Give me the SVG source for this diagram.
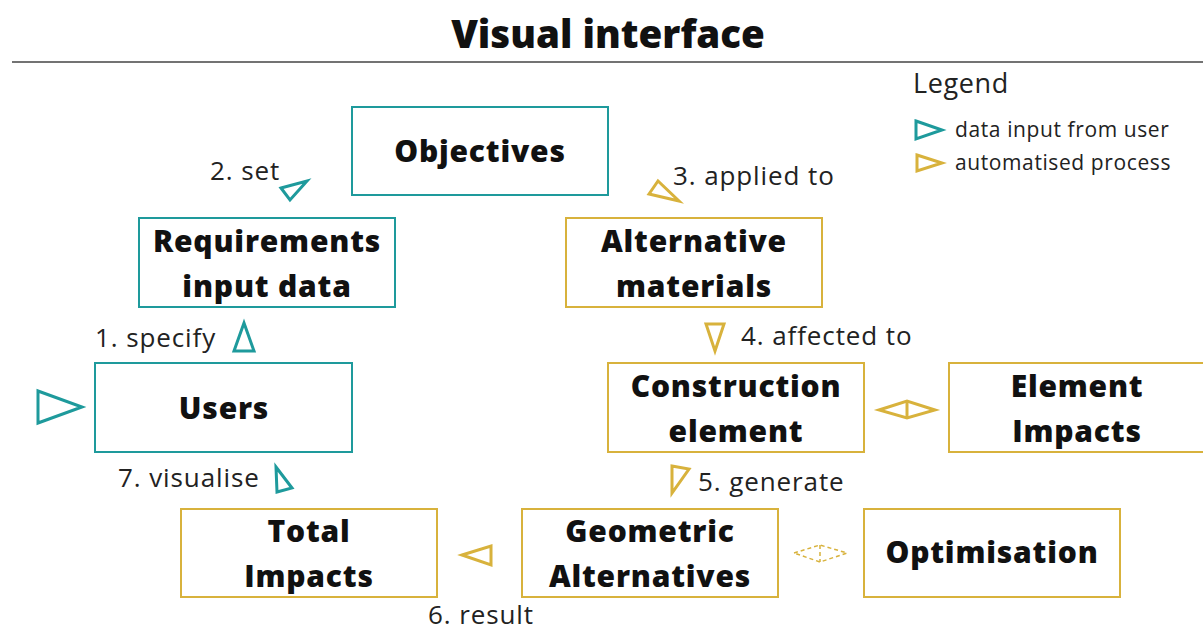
<svg xmlns="http://www.w3.org/2000/svg" width="1203" height="631" viewBox="0 0 1203 631">
<style>
.t{stroke:#1E9A9C;fill:none;stroke-width:2}
.g{stroke:#D8B23C;fill:none;stroke-width:2}
.at{stroke:#1E9A9C;fill:none;stroke-width:3;stroke-linejoin:miter}
.ag{stroke:#D8B23C;fill:none;stroke-width:3;stroke-linejoin:miter}
.ad{stroke:#D8B23C;fill:none;stroke-width:1.5;stroke-dasharray:4 3}
.n{font-family:"Open Sans","Liberation Sans",sans-serif;font-weight:800;font-size:30px;letter-spacing:0.8px;fill:#111;text-anchor:middle}
.l{font-family:"Open Sans","Liberation Sans",sans-serif;font-size:26px;letter-spacing:0.9px;fill:#222}
.lg{font-family:"Open Sans","Liberation Sans",sans-serif;font-size:21px;letter-spacing:0.6px;fill:#222}
</style>
<rect width="1203" height="631" fill="#fff"/>
<text x="608" y="48" font-family="Open Sans, Liberation Sans, sans-serif" font-weight="800" font-size="38.5" text-anchor="middle" fill="#111">Visual interface</text>
<line x1="12" y1="62" x2="1203" y2="62" stroke="#444" stroke-width="1.5"/>
<g id="legend">
<text x="913" y="93" font-family="Open Sans, Liberation Sans, sans-serif" font-size="27" letter-spacing="0.6" fill="#222">Legend</text>
<polygon class="at" points="916,121 942,130 916,139"/>
<text class="lg" x="955" y="137">data input from user</text>
<polygon class="ag" points="917,155 942,163 917,171"/>
<text class="lg" x="955" y="170">automatised process</text>
</g>
<g id="objectives"><rect class="t" x="352" y="107" width="256" height="88"/><text class="n" x="480" y="162">Objectives</text></g>
<g id="requirements"><rect class="t" x="139" y="218" width="256" height="89"/><text class="n" x="267" y="252">Requirements</text><text class="n" x="267" y="297">input data</text></g>
<g id="alternative-materials"><rect class="g" x="566" y="218" width="256" height="89"/><text class="n" x="694" y="252">Alternative</text><text class="n" x="694" y="297">materials</text></g>
<g id="users"><rect class="t" x="95" y="363" width="257" height="89"/><text class="n" x="224" y="419">Users</text></g>
<g id="construction-element"><rect class="g" x="608" y="363" width="256" height="89"/><text class="n" x="736" y="397">Construction</text><text class="n" x="736" y="442">element</text></g>
<g id="element-impacts"><rect class="g" x="949" y="363" width="256" height="89"/><text class="n" x="1077" y="397">Element</text><text class="n" x="1077" y="442">Impacts</text></g>
<g id="total-impacts"><rect class="g" x="181" y="509" width="256" height="88"/><text class="n" x="309" y="542">Total</text><text class="n" x="309" y="587">Impacts</text></g>
<g id="geometric-alternatives"><rect class="g" x="522" y="509" width="256" height="88"/><text class="n" x="650" y="542">Geometric</text><text class="n" x="650" y="587">Alternatives</text></g>
<g id="optimisation"><rect class="g" x="864" y="509" width="256" height="88"/><text class="n" x="992" y="563">Optimisation</text></g>
<g id="connectors">
<polygon class="at" points="38,391 82,407 38,423"/>
<polygon class="at" points="234,351 244,323 254,351"/>
<text class="l" x="95" y="347">1. specify</text>
<polygon class="at" points="281,188 307,181 290,200"/>
<text class="l" x="210" y="180">2. set</text>
<polygon class="ag" points="649,194 658,181 679,201"/>
<text class="l" x="673" y="185">3. applied to</text>
<polygon class="ag" points="706,324 724,324 715,351"/>
<text class="l" x="741" y="345">4. affected to</text>
<polygon class="ag" points="879,410 907,401 935,410 907,418"/>
<line class="ag" x1="907" y1="401" x2="907" y2="418"/>
<polygon class="ag" points="672,466 689,469 672,493"/>
<text class="l" x="698" y="491">5. generate</text>
<polygon class="ag" points="462,555 491,546 491,565"/>
<text class="l" x="428" y="624">6. result</text>
<polygon class="ad" points="794,553 820,545 847,553 820,562"/>
<line class="ad" x1="820" y1="545" x2="820" y2="562"/>
<polygon class="at" points="276,467 292,488 277,492"/>
<text class="l" x="118" y="487">7. visualise</text>
</g>
</svg>
